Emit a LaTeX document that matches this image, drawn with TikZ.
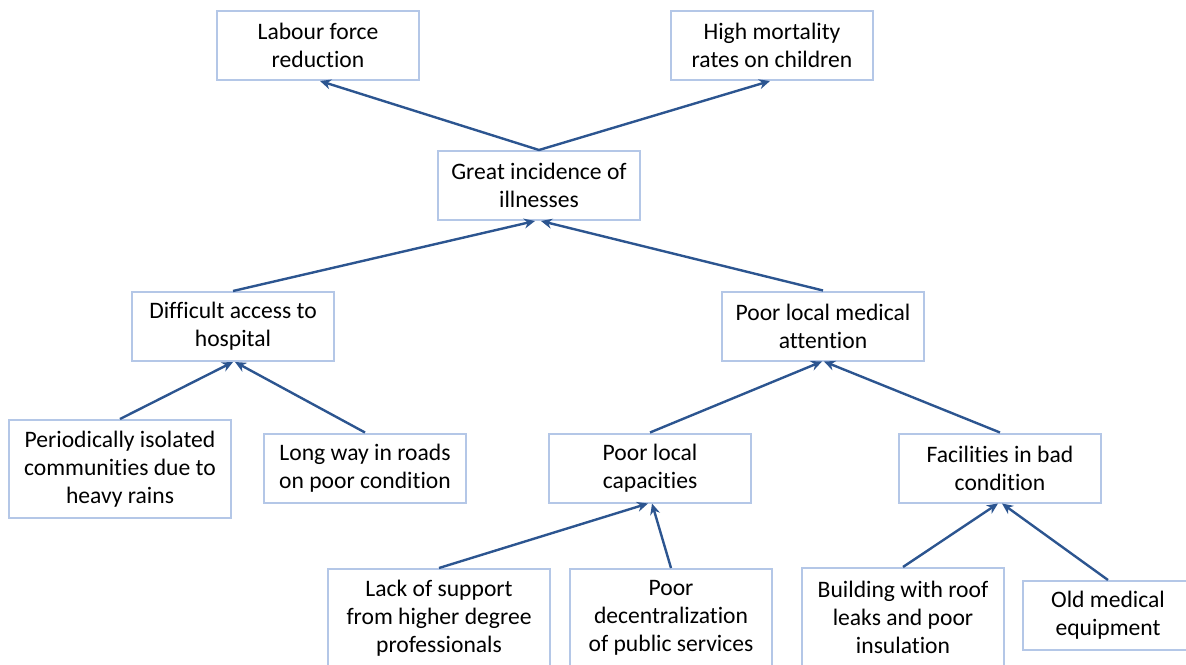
\documentclass[tikz,border=0pt]{standalone}
\usepackage{fontspec}
\setmainfont{Carlito}[Ligatures=NoCommon]
\usetikzlibrary{arrows.meta}
\usetikzlibrary{positioning}

\definecolor{boxblue}{HTML}{B4C7E7}
\definecolor{arrowblue}{HTML}{2C5590}

\tikzset{
  box/.style={draw=boxblue, line width=1pt, fill=white, align=center,
    minimum width=101pt, minimum height=34.5pt, inner sep=2pt,
    font=\fontsize{11.8}{14}\selectfont},
  widebox/.style={box, minimum width=111pt, minimum height=49pt},
  tallbox/.style={box, minimum height=49pt},
  arr/.style={draw=arrowblue, line width=1.2pt,
    -{Stealth[length=5.5pt,width=5pt]}}
}

\begin{document}
\begin{tikzpicture}[x=0.5pt,y=-0.5pt]
\useasboundingbox (0,0) rectangle (1186,664);
\clip (0,0) rectangle (1186,664);

% effects
\node[box] (labour) at (318,45.5) {Labour force\\reduction};
\node[box] (mortality) at (772,45.5) {High mortality\\rates on children};

% core problem
\node[box] (illness) at (539,185.5) {Great incidence of\\illnesses};

% direct causes
\node[box] (access) at (233,326.5) {Difficult access to\\hospital};
\node[box] (medical) at (823,326) {Poor local medical\\attention};

% second level causes
\node[widebox] (isolated) at (120,469) {Periodically isolated\\communities due to\\heavy rains};
\node[box] (roads) at (365,468) {Long way in roads\\on poor condition};
\node[box] (capac) at (650,468) {Poor local\\capacities};
\node[box] (facil) at (1000,468) {Facilities in bad\\condition};

% root causes (cut by the page edge)
\node[widebox] (support) at (439,618) {Lack of support\\from higher degree\\professionals};
\node[tallbox] (decentral) at (671,618) {Poor\\decentralization\\of public services};
\node[tallbox] (building) at (903,617) {Building with roof\\leaks and poor\\insulation};
\node[box, minimum width=85pt] (equip) at (1108,615.5) {Old medical\\equipment};

% arrows
\draw[arr] (illness.north) -- ([xshift=1pt]labour.south);
\draw[arr] (illness.north) -- ([xshift=-1pt]mortality.south);
\draw[arr] (access.north) -- ([xshift=-2pt]illness.south);
\draw[arr] (medical.north) -- ([xshift=1pt]illness.south);
\draw[arr] (isolated.north) -- (access.south);
\draw[arr] (roads.north) -- ([xshift=1pt]access.south);
\draw[arr] (capac.north) -- ([xshift=-0.5pt]medical.south);
\draw[arr] (facil.north) -- ([xshift=0.5pt]medical.south);
\draw[arr] (support.north) -- ([xshift=-1pt]capac.south);
\draw[arr] (decentral.north) -- ([xshift=1pt]capac.south);
\draw[arr] (building.north) -- ([xshift=-1pt]facil.south);
\draw[arr] (equip.north) -- ([xshift=1pt]facil.south);

\end{tikzpicture}
\end{document}
